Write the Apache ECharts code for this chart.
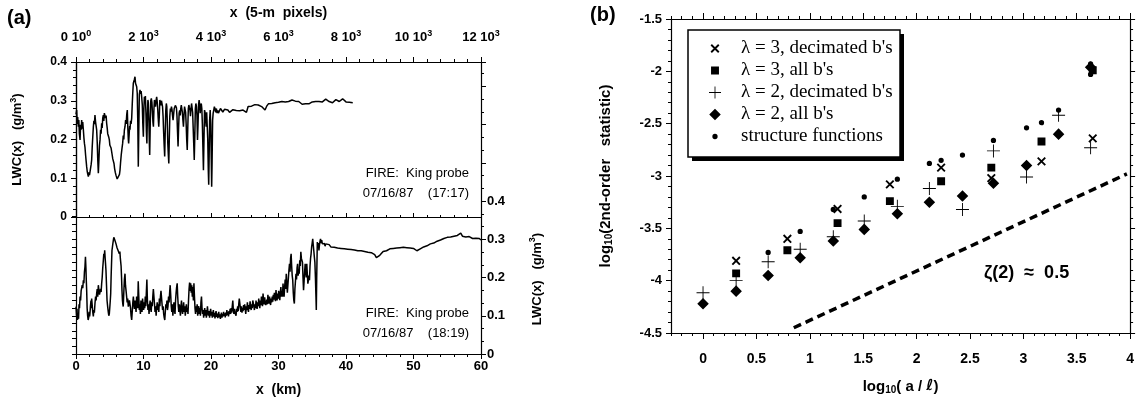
<!DOCTYPE html>
<html><head><meta charset="utf-8">
<script src="https://cdn.jsdelivr.net/npm/echarts@6/dist/echarts.min.js"></script>
<style>html,body{margin:0;padding:0;background:#fff}#c{width:1137px;height:402px}</style>
</head><body><div id="c"></div>
<script>
// ---------- panel (a) data: LWC (g/m^3) vs x (km) ----------
const topTrace = [[0,.265],[.1,.276],[.18,.24],[.25,.258],[.35,.233],[.42,.25],[.5,.215],[.6,.199],[.68,.238],[.76,.225],[.84,.25],[.92,.228],[1,.245],[1.09,.225],[1.17,.205],[1.25,.19],[1.33,.18],[1.42,.16],[1.5,.145],[1.58,.13],[1.66,.118],[1.75,.11],[1.83,.104],[1.91,.115],[2,.108],[2.07,.113],[2.15,.125],[2.24,.135],[2.32,.147],[2.4,.18],[2.48,.205],[2.57,.233],[2.65,.248],[2.73,.24],[2.81,.263],[2.9,.245],[2.98,.235],[3.06,.225],[3.15,.19],[3.22,.15],[3.31,.113],[3.4,.15],[3.48,.185],[3.56,.199],[3.64,.225],[3.72,.215],[3.8,.242],[3.88,.23],[3.96,.255],[4.05,.263],[4.12,.248],[4.2,.268],[4.3,.272],[4.38,.255],[4.46,.262],[4.54,.242],[4.62,.23],[4.7,.215],[4.8,.22],[4.87,.205],[4.94,.199],[5.02,.185],[5.1,.19],[5.2,.178],[5.28,.173],[5.36,.16],[5.45,.15],[5.54,.145],[5.63,.138],[5.72,.125],[5.82,.115],[5.92,.108],[6.02,.104],[6.1,.098],[6.18,.102],[6.27,.095],[6.35,.1],[6.44,.11],[6.52,.121],[6.6,.14],[6.7,.16],[6.8,.175],[6.91,.19],[7,.21],[7.08,.2],[7.17,.225],[7.26,.233],[7.35,.25],[7.43,.24],[7.52,.265],[7.6,.276],[7.68,.23],[7.75,.2],[7.8,.19],[7.88,.215],[7.95,.235],[8,.225],[8.08,.248],[8.16,.24],[8.25,.255],[8.33,.29],[8.41,.32],[8.49,.345],[8.57,.34],[8.65,.355],[8.74,.362],[8.82,.345],[8.9,.35],[8.99,.336],[9.07,.32],[9.15,.25],[9.23,.13],[9.3,.22],[9.38,.315],[9.48,.328],[9.56,.318],[9.65,.325],[9.73,.31],[9.82,.29],[9.9,.24],[9.98,.207],[10.06,.28],[10.13,.31],[10.2,.3],[10.28,.312],[10.36,.27],[10.43,.22],[10.5,.19],[10.58,.26],[10.65,.302],[10.72,.295],[10.8,.25],[10.87,.19],[10.92,.16],[11,.24],[11.08,.3],[11.16,.306],[11.25,.295],[11.32,.27],[11.4,.245],[11.47,.233],[11.55,.28],[11.62,.302],[11.7,.298],[11.78,.285],[11.86,.3],[11.95,.31],[12.02,.3],[12.1,.28],[12.18,.255],[12.26,.233],[12.34,.26],[12.42,.302],[12.5,.296],[12.58,.288],[12.66,.3],[12.75,.298],[12.82,.285],[12.9,.26],[12.98,.22],[13.06,.185],[13.14,.156],[13.22,.22],[13.3,.275],[13.38,.293],[13.45,.285],[13.52,.25],[13.6,.19],[13.68,.16],[13.75,.138],[13.82,.2],[13.9,.26],[13.98,.28],[14.06,.272],[14.14,.285],[14.22,.278],[14.3,.262],[14.38,.25],[14.46,.265],[14.55,.28],[14.63,.275],[14.72,.288],[14.8,.293],[14.88,.282],[14.96,.26],[15.04,.22],[15.12,.182],[15.2,.23],[15.28,.268],[15.36,.275],[15.44,.262],[15.52,.28],[15.6,.289],[15.68,.285],[15.76,.27],[15.84,.25],[15.92,.233],[16,.262],[16.08,.285],[16.16,.28],[16.24,.27],[16.32,.24],[16.4,.2],[16.48,.173],[16.56,.23],[16.64,.28],[16.72,.289],[16.8,.282],[16.88,.276],[16.96,.26],[17.04,.28],[17.12,.293],[17.2,.288],[17.28,.27],[17.36,.23],[17.44,.19],[17.52,.147],[17.6,.21],[17.68,.28],[17.76,.293],[17.84,.285],[17.92,.262],[18,.199],[18.08,.24],[18.16,.29],[18.24,.302],[18.32,.29],[18.4,.268],[18.48,.285],[18.56,.293],[18.64,.28],[18.72,.24],[18.8,.18],[18.88,.121],[18.96,.2],[19.04,.276],[19.12,.27],[19.2,.25],[19.28,.233],[19.36,.27],[19.44,.275],[19.52,.2],[19.6,.12],[19.66,.083],[19.72,.15],[19.8,.25],[19.88,.276],[19.96,.24],[20.04,.15],[20.1,.078],[20.16,.14],[20.24,.25],[20.32,.268],[20.4,.275],[20.5,.285],[20.6,.278],[20.7,.27],[20.8,.28],[20.9,.268],[21,.275],[21.1,.268],[21.2,.265],[21.3,.272],[21.4,.28],[21.5,.275],[21.75,.271],[22,.278],[22.25,.273],[22.5,.276],[22.75,.27],[23,.274],[23.25,.277],[23.5,.272],[23.75,.275],[24,.278],[24.25,.274],[24.5,.279],[24.75,.276],[25,.28],[25.25,.27],[25.5,.285],[25.75,.282],[26,.286],[26.25,.284],[26.5,.29],[26.75,.287],[27,.289],[27.25,.284],[27.5,.285],[27.75,.28],[28,.276],[28.25,.286],[28.5,.292],[28.75,.29],[29,.293],[29.25,.291],[29.5,.295],[29.75,.292],[30,.296],[30.25,.294],[30.5,.298],[30.75,.295],[31,.297],[31.25,.293],[31.5,.298],[31.75,.3],[32,.302],[32.25,.304],[32.5,.299],[32.75,.296],[33,.298],[33.25,.293],[33.5,.291],[33.75,.29],[34,.292],[34.25,.289],[34.5,.292],[34.75,.295],[35,.297],[35.25,.3],[35.5,.298],[35.75,.296],[36,.298],[36.25,.299],[36.5,.297],[36.75,.3],[37,.304],[37.25,.302],[37.5,.298],[37.75,.296],[38,.295],[38.25,.298],[38.5,.303],[38.75,.3],[39,.298],[39.25,.302],[39.5,.305],[39.75,.3],[40,.297],[40.25,.299],[40.5,.296],[40.75,.298],[41,.295]];

const bottomTrace = [[0,.124],[.08,.1],[.15,.118],[.22,.089],[.3,.105],[.38,.092],[.45,.13],[.52,.12],[.6,.15],[.68,.14],[.76,.165],[.84,.16],[.92,.18],[1,.172],[1.09,.193],[1.17,.185],[1.25,.215],[1.33,.228],[1.4,.254],[1.47,.225],[1.53,.19],[1.58,.167],[1.65,.12],[1.72,.1],[1.8,.089],[1.88,.095],[1.95,.11],[2.02,.098],[2.07,.106],[2.14,.125],[2.22,.14],[2.28,.12],[2.32,.145],[2.4,.128],[2.48,.11],[2.57,.098],[2.64,.115],[2.72,.108],[2.81,.132],[2.9,.15],[2.98,.14],[3.06,.158],[3.14,.17],[3.22,.15],[3.31,.18],[3.4,.165],[3.48,.155],[3.56,.15],[3.64,.17],[3.72,.162],[3.8,.184],[3.88,.2],[3.96,.225],[4.05,.245],[4.12,.262],[4.2,.255],[4.25,.271],[4.32,.25],[4.38,.235],[4.44,.219],[4.52,.18],[4.6,.14],[4.69,.124],[4.78,.11],[4.86,.1],[4.94,.106],[5.02,.125],[5.08,.14],[5.14,.158],[5.2,.2],[5.27,.24],[5.33,.271],[5.4,.28],[5.47,.29],[5.53,.297],[5.6,.305],[5.68,.31],[5.75,.298],[5.82,.302],[5.93,.288],[6,.292],[6.08,.278],[6.17,.28],[6.25,.27],[6.33,.275],[6.42,.262],[6.5,.268],[6.57,.25],[6.62,.245],[6.68,.23],[6.75,.2],[6.81,.167],[6.88,.14],[6.94,.13],[7,.124],[7.08,.16],[7.17,.195],[7.26,.21],[7.33,.18],[7.42,.165],[7.5,.15],[7.58,.135],[7.66,.145],[7.75,.124],[7.84,.13],[7.92,.14],[8,.141],[8.08,.12],[8.16,.1],[8.25,.089],[8.33,.11],[8.42,.135],[8.5,.15],[8.58,.13],[8.66,.118],[8.74,.14],[8.82,.125],[8.9,.11],[8.98,.15],[9.06,.135],[9.14,.12],[9.22,.19],[9.3,.15],[9.38,.115],[9.46,.13],[9.54,.105],[9.62,.14],[9.7,.125],[9.78,.11],[9.86,.145],[9.94,.13],[10.02,.115],[10.1,.135],[10.18,.12],[10.26,.15],[10.34,.125],[10.42,.16],[10.5,.195],[10.58,.14],[10.66,.115],[10.74,.13],[10.82,.105],[10.9,.125],[10.98,.14],[11.06,.12],[11.14,.11],[11.22,.135],[11.3,.125],[11.38,.15],[11.46,.17],[11.55,.175],[11.63,.13],[11.71,.11],[11.79,.125],[11.87,.1],[11.95,.12],[12.03,.135],[12.11,.115],[12.19,.13],[12.27,.11],[12.35,.145],[12.43,.125],[12.51,.15],[12.59,.165],[12.67,.17],[12.75,.13],[12.83,.115],[12.91,.125],[12.99,.105],[13.07,.095],[13.15,.089],[13.23,.11],[13.31,.13],[13.39,.12],[13.47,.14],[13.55,.115],[13.63,.125],[13.71,.15],[13.79,.135],[13.87,.16],[13.95,.18],[14.03,.155],[14.11,.125],[14.19,.11],[14.27,.13],[14.35,.1],[14.43,.12],[14.51,.135],[14.59,.115],[14.67,.105],[14.75,.14],[14.83,.16],[14.91,.175],[14.99,.185],[15.07,.15],[15.15,.125],[15.23,.11],[15.31,.13],[15.39,.115],[15.47,.1],[15.55,.125],[15.63,.14],[15.71,.115],[15.79,.105],[15.87,.12],[15.95,.135],[16.03,.11],[16.11,.125],[16.19,.1],[16.27,.115],[16.35,.13],[16.43,.11],[16.51,.12],[16.59,.105],[16.67,.14],[16.75,.17],[16.83,.187],[16.91,.165],[16.99,.185],[17.07,.16],[17.15,.18],[17.23,.15],[17.31,.175],[17.39,.14],[17.47,.185],[17.55,.15],[17.63,.12],[17.71,.105],[17.79,.125],[17.87,.11],[17.95,.13],[18.03,.1],[18.11,.115],[18.19,.125],[18.27,.105],[18.35,.12],[18.43,.1],[18.51,.135],[18.59,.15],[18.67,.12],[18.75,.105],[18.83,.115],[18.91,.095],[18.99,.11],[19.07,.12],[19.15,.1],[19.23,.115],[19.31,.095],[19.39,.105],[19.47,.125],[19.55,.11],[19.63,.1],[19.71,.112],[19.79,.095],[19.87,.108],[19.95,.118],[20.03,.1],[20.11,.11],[20.19,.095],[20.27,.102],[20.35,.115],[20.43,.098],[20.51,.108],[20.59,.093],[20.67,.105],[20.75,.112],[20.83,.097],[20.91,.106],[20.99,.094],[21.07,.103],[21.15,.11],[21.23,.096],[21.31,.104],[21.39,.092],[21.47,.1],[21.55,.108],[21.63,.095],[21.71,.104],[21.79,.098],[21.87,.11],[21.95,.1],[22.03,.106],[22.11,.096],[22.19,.108],[22.27,.1],[22.35,.115],[22.43,.102],[22.51,.11],[22.59,.098],[22.67,.112],[22.75,.104],[22.83,.118],[22.91,.105],[22.99,.12],[23.07,.108],[23.15,.125],[23.23,.14],[23.31,.115],[23.39,.105],[23.47,.118],[23.55,.108],[23.63,.112],[23.71,.1],[23.79,.118],[23.87,.11],[23.95,.125],[24.03,.112],[24.11,.13],[24.19,.145],[24.27,.15],[24.35,.12],[24.43,.11],[24.51,.125],[24.59,.108],[24.67,.12],[24.75,.112],[24.83,.128],[24.91,.115],[24.99,.13],[25.07,.118],[25.15,.105],[25.23,.125],[25.31,.115],[25.39,.135],[25.47,.12],[25.55,.11],[25.63,.128],[25.71,.118],[25.79,.138],[25.87,.125],[25.95,.115],[26.03,.13],[26.11,.12],[26.19,.14],[26.27,.145],[26.35,.125],[26.43,.115],[26.51,.13],[26.59,.12],[26.67,.14],[26.75,.128],[26.83,.118],[26.91,.135],[26.99,.125],[27.07,.145],[27.15,.13],[27.23,.12],[27.31,.14],[27.39,.128],[27.47,.15],[27.55,.135],[27.63,.125],[27.71,.158],[27.79,.14],[27.87,.13],[27.95,.148],[28.03,.135],[28.11,.128],[28.19,.124],[28.27,.142],[28.35,.13],[28.43,.155],[28.51,.14],[28.59,.132],[28.67,.15],[28.75,.138],[28.83,.128],[28.91,.145],[28.99,.135],[29.07,.15],[29.15,.137],[29.23,.155],[29.31,.142],[29.39,.16],[29.47,.148],[29.55,.138],[29.63,.167],[29.71,.15],[29.79,.14],[29.87,.158],[29.95,.145],[30.03,.165],[30.11,.15],[30.19,.141],[30.27,.16],[30.35,.175],[30.43,.15],[30.51,.165],[30.59,.15],[30.67,.184],[30.75,.16],[30.83,.15],[30.91,.175],[30.99,.195],[31.07,.17],[31.15,.21],[31.23,.185],[31.31,.16],[31.39,.158],[31.47,.2],[31.55,.22],[31.63,.236],[31.71,.215],[31.79,.25],[31.87,.262],[31.95,.23],[32.03,.205],[32.11,.193],[32.19,.16],[32.27,.14],[32.35,.132],[32.43,.17],[32.51,.19],[32.59,.21],[32.67,.195],[32.75,.225],[32.83,.236],[32.91,.205],[32.99,.22],[33.07,.21],[33.15,.245],[33.23,.23],[33.31,.267],[33.39,.25],[33.47,.254],[33.55,.24],[33.63,.2],[33.71,.167],[33.79,.19],[33.87,.215],[33.95,.236],[34.03,.215],[34.11,.2],[34.19,.236],[34.27,.21],[34.35,.184],[34.43,.193],[34.51,.205],[34.59,.193],[34.67,.23],[34.75,.25],[34.83,.262],[34.91,.28],[34.99,.29],[35.07,.301],[35.15,.285],[35.23,.27],[35.31,.254],[35.39,.24],[35.47,.2],[35.55,.15],[35.6,.115],[35.66,.2],[35.75,.293],[35.83,.28],[35.91,.29],[35.99,.271],[36.07,.285],[36.15,.295],[36.23,.301],[36.31,.29],[36.4,.298],[36.5,.288],[36.6,.292],[36.7,.285],[36.8,.289],[36.9,.282],[37,.288],[37.25,.283],[37.5,.286],[37.75,.28],[38,.284],[38.25,.279],[38.5,.282],[38.75,.277],[39,.28],[39.25,.276],[39.5,.278],[39.75,.275],[40,.278],[40.25,.274],[40.5,.276],[40.75,.273],[41,.276],[41.25,.272],[41.5,.274],[41.75,.27],[42,.273],[42.25,.27],[42.5,.272],[42.75,.268],[43,.27],[43.25,.266],[43.5,.268],[43.75,.265],[44,.262],[44.25,.26],[44.5,.252],[44.75,.248],[45,.258],[45.25,.262],[45.5,.268],[45.75,.266],[46,.27],[46.25,.272],[46.5,.275],[46.75,.273],[47,.276],[47.25,.274],[47.5,.277],[47.75,.275],[48,.278],[48.25,.276],[48.5,.279],[48.75,.277],[49,.278],[49.25,.275],[49.5,.277],[49.75,.274],[50,.276],[50.25,.272],[50.5,.27],[50.75,.268],[51,.275],[51.25,.278],[51.5,.28],[51.75,.278],[52,.283],[52.25,.285],[52.5,.288],[52.75,.286],[53,.29],[53.25,.292],[53.5,.295],[53.75,.293],[54,.298],[54.25,.3],[54.5,.302],[54.75,.3],[55,.305],[55.25,.302],[55.5,.306],[55.75,.304],[56,.308],[56.25,.305],[56.5,.31],[56.75,.312],[57,.316],[57.25,.308],[57.5,.304],[57.75,.306],[58,.303],[58.25,.307],[58.5,.305],[58.75,.302],[59,.306],[59.25,.303],[59.5,.3],[59.75,.302],[60,.298]];

// ---------- panel (b) data ----------
const lam3X      = [0.31, 0.79, 1.26, 1.75, 2.23, 2.70, 3.17, 3.65];
const lam3DecY   = [-3.81, -3.60, -3.315, -3.08, -2.92, -3.02, -2.86, -2.64];
const lam3AllY   = [-3.93, -3.71, -3.45, -3.24, -3.05, -2.92, -2.67, -1.99];
const lam2X      = [0.0, 0.31, 0.61, 0.91, 1.22, 1.51, 1.82, 2.12, 2.43, 2.72, 3.03, 3.33, 3.63];
const lam2DecY   = [-4.115, -4.00, -3.82, -3.70, -3.58, -3.43, -3.29, -3.12, -3.32, -2.76, -3.01, -2.42, -2.73];
const lam2AllY   = [-4.22, -4.10, -3.95, -3.78, -3.62, -3.51, -3.36, -3.25, -3.19, -3.07, -2.90, -2.60, -1.96];
const sfX        = [0.61, 0.91, 1.22, 1.51, 1.82, 2.12, 2.23, 2.43, 2.72, 3.03, 3.17, 3.33, 3.63, 3.63];
const sfY        = [-3.73, -3.53, -3.32, -3.20, -3.03, -2.88, -2.85, -2.80, -2.66, -2.54, -2.49, -2.37, -1.93, -2.03];
const slopeX     = [0.85, 3.97];
const slopeY     = [-4.45, -2.98];
const zetaLabelAt = [3.03, -3.93];

// tick label / tick value lists
const bMajorXTicks = [0, 0.5, 1, 1.5, 2, 2.5, 3, 3.5, 4];
const aBottomLeftTicks = [0,0.02,0.04,0.06,0.08,0.1,0.12,0.14,0.16,0.18,0.2,0.22,0.24,0.26,0.28,0.3,0.32,0.34,0.36];
const seriesNames = ["λ = 3, decimated b's", "λ = 3, all b's", "λ = 2, decimated b's", "λ = 2, all b's", "structure functions"];

// ---------- styling ----------
const F = "'Liberation Sans', Arial, Helvetica, sans-serif";
const SERIF = "'Liberation Serif', 'Times New Roman', serif";
const K = '#000';
const FRAME = 'M0,0L0.01,0L0.01,0.01Z M10,10L9.99,10L9.99,9.99Z ';
const SYM = {
  x: 'path://' + FRAME + 'M1.3,2.4L2.4,1.3L8.7,7.6L7.6,8.7Z M7.6,1.3L8.7,2.4L2.4,8.7L1.3,7.6Z',
  sq: 'path://' + FRAME + 'M1.7,1.7L8.3,1.7L8.3,8.3L1.7,8.3Z',
  plus: 'path://' + FRAME + 'M4.65,0L5.35,0L5.35,10L4.65,10Z M0,4.65L10,4.65L10,5.35L0,5.35Z',
  dia: 'path://' + FRAME + 'M5,0.2L9.8,5L5,9.8L0.2,5Z',
  dot: 'path://' + FRAME + 'M5,2.8A2.2,2.2,0,1,1,4.99,2.8Z'
};

function merge(a, b) {
  const o = Object.assign({}, a);
  for (const k in b) {
    if (b[k] && typeof b[k] === 'object' && !Array.isArray(b[k]) && a[k] && typeof a[k] === 'object') o[k] = merge(a[k], b[k]);
    else o[k] = b[k];
  }
  return o;
}
const baseAxis = {
  type: 'value', splitLine: { show: false },
  axisLine: { show: true, onZero: false, lineStyle: { color: K, width: 1.2 } },
  axisTick: { show: true, length: 5, lineStyle: { color: K, width: 1 } },
  minorTick: { show: false, length: 3, lineStyle: { color: K, width: 1 } },
  axisLabel: { show: false, color: K, fontFamily: F, fontWeight: 'bold', fontSize: 13 },
  nameTextStyle: { color: K, fontFamily: F, fontWeight: 'bold', fontSize: 14 }
};
const ax = o => merge(baseAxis, o);
const isHalf = v => Math.abs(v * 2 - Math.round(v * 2)) < 1e-6;

const supRich = { s: { fontSize: 9, fontFamily: F, fontWeight: 'bold', color: K, padding: [0, 0, 8, 0] } };
const subRich = { s: { fontSize: 10, fontFamily: F, fontWeight: 'bold', color: K, padding: [7, 0, 0, 0], verticalAlign: 'bottom' },
                  i: { fontSize: 15, fontFamily: "'DejaVu Sans', " + F, fontStyle: 'italic', fontWeight: 'bold', color: K } };

const pairs = (xs, ys) => xs.map((x, i) => [x, ys[i]]);

// legend box geometry (frame drawn as graphic, entries by the legend component)
const LB = { x: 688, y: 30, w: 212, h: 127 };

const chart = echarts.init(document.getElementById('c'), null, { renderer: 'canvas' });
const option = {
  animation: false,
  backgroundColor: '#fff',
  textStyle: { fontFamily: F, color: K },
  grid: [
    { left: 76, top: 62, width: 405, height: 155 },
    { left: 76, top: 62, width: 405, height: 294 },
    { left: 671, top: 19, width: 460, height: 314 }
  ],
  xAxis: [
    ax({ gridIndex: 0, position: 'bottom', min: 0, max: 60, interval: 10,
         axisTick: { inside: true, length: 4 }, minorTick: { show: true, splitNumber: 5, length: 2 } }),
    ax({ gridIndex: 0, position: 'top', min: 0, max: 12000, interval: 2000,
         minorTick: { show: true, splitNumber: 5 },
         axisLabel: { show: true, margin: 16, fontSize: 13,
           formatter: v => (v === 0 ? '0 10{s|0}' : (v / 1000) + ' 10{s|3}'), rich: supRich },
         name: 'x  (5-m  pixels)', nameLocation: 'middle', nameGap: 42 }),
    ax({ gridIndex: 1, position: 'bottom', min: 0, max: 60, interval: 10,
         minorTick: { show: true, splitNumber: 5 },
         axisLabel: { show: true, margin: 6, fontSize: 13 },
         name: 'x  (km)', nameLocation: 'middle', nameGap: 29 }),
    ax({ gridIndex: 2, position: 'bottom', min: -0.3, max: 4, interval: 0.1,
         axisTick: { length: 3 },
         axisLabel: { show: true, interval: 0, margin: 19, fontSize: 14, formatter: v => (isHalf(v) && v > -0.01 ? String(Math.round(v * 2) / 2) : '') },
         name: 'log{s|10}( a / {i|ℓ})', nameLocation: 'middle', nameGap: 45,
         nameTextStyle: { fontSize: 15, rich: subRich } }),
    ax({ gridIndex: 2, position: 'bottom', min: -0.3, max: 4, interval: 0.1,
         axisLine: { show: false }, axisTick: { length: 6, customValues: bMajorXTicks } }),
    ax({ gridIndex: 2, position: 'top', min: -0.3, max: 4, interval: 0.1, axisTick: { length: 3 } }),
    ax({ gridIndex: 2, position: 'top', min: -0.3, max: 4, interval: 0.1,
         axisLine: { show: false }, axisTick: { length: 6, customValues: bMajorXTicks } })
  ],
  yAxis: [
    ax({ gridIndex: 0, position: 'left', min: 0, max: 0.4, interval: 0.1,
         minorTick: { show: true, splitNumber: 5 },
         axisLabel: { show: true, margin: 9, fontSize: 12 },
         name: 'LWC(x)   (g/m{s|3})', nameLocation: 'middle', nameGap: 50, nameRotate: 90,
         nameTextStyle: { fontSize: 13, rich: supRich } }),
    ax({ gridIndex: 1, position: 'left', min: 0, max: 0.7636, interval: 0.1,
         axisTick: { length: 4, customValues: aBottomLeftTicks } }),
    ax({ gridIndex: 1, position: 'right', min: 0, max: 0.7636, interval: 0.1,
         minorTick: { show: true, splitNumber: 3 },
         axisLabel: { show: true, margin: 6, fontSize: 13,
           formatter: v => (v <= 0.4001 ? String(Math.round(v * 10) / 10) : '') } }),
    ax({ gridIndex: 2, position: 'left', min: -4.5, max: -1.5, interval: 0.5,
         minorTick: { show: true, splitNumber: 5 },
         axisLabel: { show: true, margin: 9, fontSize: 13 },
         name: 'log{s|10}(2nd-order   statistic)', nameLocation: 'middle', nameGap: 57, nameRotate: 90,
         nameTextStyle: { fontSize: 15, rich: subRich } }),
    ax({ gridIndex: 2, position: 'right', min: -4.5, max: -1.5, interval: 0.5,
         minorTick: { show: true, splitNumber: 5 } })
  ],
  legend: {
    orient: 'vertical', left: LB.x + 21, top: LB.y + 9, itemGap: 3, itemWidth: 42, itemHeight: 12,
    padding: 0, selectedMode: false, z: 6,
    textStyle: { fontFamily: SERIF, fontSize: 19, color: K },
    data: [
      { name: seriesNames[0], icon: SYM.x },
      { name: seriesNames[1], icon: SYM.sq },
      { name: seriesNames[2], icon: SYM.plus },
      { name: seriesNames[3], icon: SYM.dia },
      { name: seriesNames[4], icon: SYM.dot }
    ]
  },
  graphic: [
    { type: 'rect', z: 4, shape: { x: LB.x + 4, y: LB.y + 4, width: LB.w, height: LB.h }, style: { fill: K } },
    { type: 'rect', z: 5, shape: { x: LB.x, y: LB.y, width: LB.w, height: LB.h }, style: { fill: '#fff', stroke: K, lineWidth: 1.5 } },
    { type: 'text', left: 7, top: 8, style: { text: '(a)', fontFamily: F, fontWeight: 'bold', fontSize: 20, fill: K } },
    { type: 'text', left: 590, top: 5, style: { text: '(b)', fontFamily: F, fontWeight: 'bold', fontSize: 20, fill: K } },
    { type: 'text', right: 668, top: 167, style: { text: 'FIRE:  King probe', fontFamily: F, fontSize: 13, fill: K } },
    { type: 'text', right: 668, top: 187, style: { text: '07/16/87    (17:17)', fontFamily: F, fontSize: 13, fill: K } },
    { type: 'text', right: 668, top: 307, style: { text: 'FIRE:  King probe', fontFamily: F, fontSize: 13, fill: K } },
    { type: 'text', right: 668, top: 327, style: { text: '07/16/87    (18:19)', fontFamily: F, fontSize: 13, fill: K } },
    { type: 'text', x: 537, y: 279, rotation: Math.PI / 2,
      style: { text: 'LWC(x)   (g/m{s|3})', fontFamily: F, fontWeight: 'bold', fontSize: 13, fill: K,
               align: 'center', verticalAlign: 'middle', textAlign: 'center', textVerticalAlign: 'middle', rich: supRich } }
  ],
  series: [
    { type: 'line', name: 'top', xAxisIndex: 0, yAxisIndex: 0, data: topTrace, showSymbol: false, symbol: 'none',
      lineStyle: { color: K, width: 1.5 }, silent: true },
    { type: 'line', name: 'bottom', xAxisIndex: 2, yAxisIndex: 2, data: bottomTrace, showSymbol: false, symbol: 'none',
      lineStyle: { color: K, width: 1.5 }, silent: true },
    { type: 'line', name: 'slope', xAxisIndex: 3, yAxisIndex: 3, data: pairs(slopeX, slopeY), symbol: 'none',
      lineStyle: { color: K, width: 3.5, type: [8, 5], cap: 'butt' }, silent: true,
      markPoint: { symbol: 'circle', symbolSize: 1, itemStyle: { color: 'rgba(0,0,0,0)' },
        label: { show: true, position: 'inside', formatter: 'ζ(2)  ≈  0.5', fontFamily: F, fontWeight: 'bold', fontSize: 18, color: K },
        data: [{ coord: zetaLabelAt }] } },
    { type: 'scatter', name: seriesNames[0], xAxisIndex: 3, yAxisIndex: 3, symbol: SYM.x, symbolSize: 12,
      itemStyle: { color: K, opacity: 1 }, data: pairs(lam3X, lam3DecY) },
    { type: 'scatter', name: seriesNames[1], xAxisIndex: 3, yAxisIndex: 3, symbol: SYM.sq, symbolSize: 12,
      itemStyle: { color: K, opacity: 1 }, data: pairs(lam3X, lam3AllY) },
    { type: 'scatter', name: seriesNames[2], xAxisIndex: 3, yAxisIndex: 3, symbol: SYM.plus, symbolSize: 13,
      itemStyle: { color: K, opacity: 1 }, data: pairs(lam2X, lam2DecY) },
    { type: 'scatter', name: seriesNames[3], xAxisIndex: 3, yAxisIndex: 3, symbol: SYM.dia, symbolSize: 12,
      itemStyle: { color: K, opacity: 1 }, data: pairs(lam2X, lam2AllY) },
    { type: 'scatter', name: seriesNames[4], xAxisIndex: 3, yAxisIndex: 3, symbol: SYM.dot, symbolSize: 12,
      itemStyle: { color: K, opacity: 1 }, data: pairs(sfX, sfY) }
  ]
};
chart.setOption(option);
</script></body></html>
